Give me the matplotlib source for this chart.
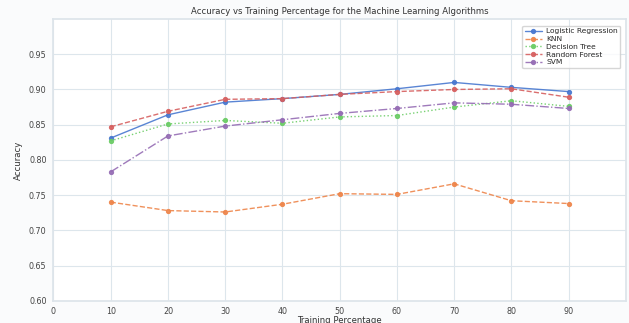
import matplotlib
matplotlib.use("Agg")
import matplotlib.pyplot as plt
import seaborn as sns

# porcentajes de entrenamiento y accuracy de cada algoritmo
training_pct = [10, 20, 30, 40, 50, 60, 70, 80, 90]
logistic_regression = [0.831, 0.864, 0.882, 0.887, 0.893, 0.901, 0.910, 0.903, 0.897]
knn = [0.740, 0.728, 0.726, 0.737, 0.752, 0.751, 0.766, 0.742, 0.738]
decision_tree = [0.827, 0.851, 0.856, 0.852, 0.861, 0.863, 0.875, 0.884, 0.876]
random_forest = [0.847, 0.869, 0.886, 0.887, 0.893, 0.897, 0.900, 0.901, 0.889]
svm = [0.783, 0.834, 0.848, 0.857, 0.866, 0.873, 0.881, 0.879, 0.873]

series = [
    ("Logistic Regression", logistic_regression, "-"),
    ("KNN", knn, "--"),
    ("Decision Tree", decision_tree, ":"),
    ("Random Forest", random_forest, "--"),
    ("SVM", svm, "-."),
]

sns.set_theme(style="whitegrid")
plt.rcParams['font.family'] = ['DejaVu Sans']
colors = sns.color_palette("muted")

fig = plt.figure(figsize=(6.29, 3.23), dpi=100)
fig.patch.set_facecolor('#fafbfc')
ax = fig.add_axes([0.085, 0.069, 0.91, 0.872])

for i, (name, vals, ls) in enumerate(series):
    ax.plot(training_pct, vals, linestyle=ls, marker='o', markersize=2.8,
            linewidth=1.0, color=colors[i], alpha=0.9, label=name)

ax.set_xlim(0, 100)
ax.set_ylim(0.6, 1.0)
ax.set_xticks(range(0, 100, 10))
ax.set_yticks([0.60, 0.65, 0.70, 0.75, 0.80, 0.85, 0.90, 0.95])
ax.set_yticklabels([f"{v:.2f}" for v in ax.get_yticks()])
ax.tick_params(axis='both', labelsize=5.8, colors='#444444', length=0)
ax.tick_params(axis='x', pad=4.5)
ax.tick_params(axis='y', pad=5)
for s in ax.spines.values():
    s.set_color('#dde4ea')
ax.grid(color='#dde6ec', linewidth=0.8)

ax.set_title('Accuracy vs Training Percentage for the Machine Learning Algorithms',
             fontsize=6.1, color='#333333', pad=4)
ax.set_xlabel('Training Percentage', fontsize=6.1, color='#333333', labelpad=0)
ax.set_ylabel('Accuracy', fontsize=6.1, color='#333333', labelpad=4)
ax.legend(loc='upper right', fontsize=5.4, frameon=True, handlelength=2.2,
          borderpad=0.35, labelspacing=0.2, handletextpad=0.6,
          bbox_to_anchor=(0.997, 0.99))

plt.savefig('out.png', dpi=100, facecolor=fig.get_facecolor())
